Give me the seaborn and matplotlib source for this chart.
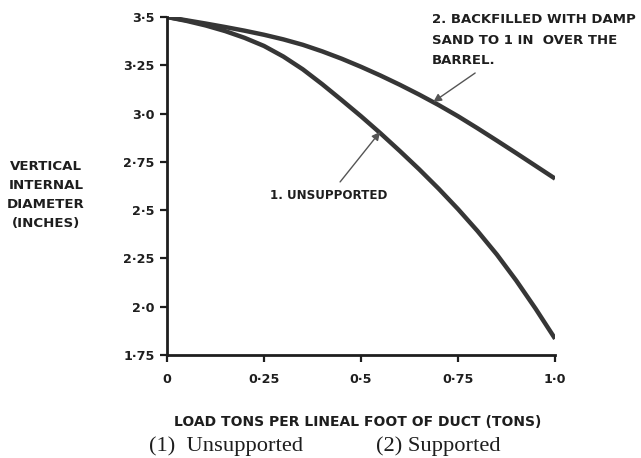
import matplotlib
matplotlib.use("Agg")
import matplotlib.pyplot as plt
import pandas as pd
import seaborn as sns

# Load (tons per lineal foot of duct)
load = [0.0, 0.05, 0.1, 0.15, 0.2, 0.25, 0.3, 0.35, 0.4, 0.45, 0.5,
        0.55, 0.6, 0.65, 0.7, 0.75, 0.8, 0.85, 0.9, 0.95, 1.0]
# Vertical internal diameter (inches)
unsupported = [3.500, 3.480, 3.456, 3.427, 3.392, 3.350, 3.295, 3.229, 3.152,
               3.070, 2.986, 2.898, 2.806, 2.711, 2.611, 2.505, 2.392, 2.270,
               2.135, 1.989, 1.834]
backfilled = [3.500, 3.483, 3.466, 3.448, 3.429, 3.408, 3.384, 3.356, 3.322,
              3.284, 3.242, 3.197, 3.149, 3.098, 3.044, 2.986, 2.924, 2.860,
              2.795, 2.729, 2.663]

x_ticks = [0, 0.25, 0.5, 0.75, 1.0]
x_tick_labels = ["0", "0·25", "0·5", "0·75", "1·0"]
y_ticks = [1.75, 2.0, 2.25, 2.5, 2.75, 3.0, 3.25, 3.5]
y_tick_labels = ["1·75", "2·0", "2·25", "2·5", "2·75", "3·0", "3·25", "3·5"]

df = pd.DataFrame({
    "load": load + load,
    "diameter": unsupported + backfilled,
    "case": ["unsupported"] * len(load) + ["backfilled"] * len(load),
})

sns.set_style("ticks")
plt.rcParams["font.family"] = ["DejaVu Sans"]

ink = "#1e1e1e"
line_col = "#363636"

fig = plt.figure(figsize=(6.41, 4.58), dpi=100)
ax = fig.add_axes([0.2605, 0.2249, 0.6055, 0.738])

sns.lineplot(data=df, x="load", y="diameter", hue="case",
             palette={"unsupported": line_col, "backfilled": line_col},
             linewidth=3.2, legend=False, ax=ax, solid_capstyle="butt",
             solid_joinstyle="round")

ax.set_xlim(0, 1.0)
ax.set_ylim(1.75, 3.5)
ax.set_xticks(x_ticks)
ax.set_xticklabels(x_tick_labels)
ax.set_yticks(y_ticks)
ax.set_yticklabels(y_tick_labels)
ax.set_xlabel("")
ax.set_ylabel("")

for side in ("top", "right"):
    ax.spines[side].set_visible(False)
for side in ("left", "bottom"):
    ax.spines[side].set_linewidth(2.0)
    ax.spines[side].set_color(ink)

ax.tick_params(axis="both", colors=ink, width=1.6, length=5, labelsize=9.2)
ax.tick_params(axis="x", pad=8)
ax.tick_params(axis="y", pad=4)
for lab in ax.get_xticklabels() + ax.get_yticklabels():
    lab.set_fontweight("bold")

# Axis titles
fig.text(46 / 641, 1 - 195 / 458, "VERTICAL\nINTERNAL\nDIAMETER\n(INCHES)",
         ha="center", va="center", fontsize=9.6, fontweight="bold",
         color=ink, linespacing=1.6)
fig.text(358 / 641, 1 - 422 / 458, "LOAD TONS PER LINEAL FOOT OF DUCT (TONS)",
         ha="center", va="center", fontsize=10, fontweight="bold", color=ink)
fig.text(226 / 641, 1 - 446 / 458, "(1)  Unsupported",
         ha="center", va="center", fontsize=16.2, family="Liberation Serif",
         color=ink)
fig.text(438 / 641, 1 - 446 / 458, "(2) Supported",
         ha="center", va="center", fontsize=16.2, family="Liberation Serif",
         color=ink)

# Curve annotations
arrow = dict(arrowstyle="-|>", color="#555555", lw=1.0, mutation_scale=12,
             shrinkA=0, shrinkB=0)
ax.text(0.4175, 2.578, "1. UNSUPPORTED", ha="center", va="center",
        fontsize=8.6, fontweight="bold", color=ink)
ax.annotate("", xy=(0.549, 2.905), xytext=(0.446, 2.646), arrowprops=arrow)

fig.text(432 / 641, 1 - 13 / 458,
         "2. BACKFILLED WITH DAMP\nSAND TO 1 IN  OVER THE\nBARREL.",
         ha="left", va="top", fontsize=9.5, fontweight="bold",
         color=ink, linespacing=1.75)
ax.annotate("", xy=(0.686, 3.06), xytext=(0.794, 3.21), arrowprops=arrow)

fig.savefig("out.png", dpi=100, facecolor="white")
